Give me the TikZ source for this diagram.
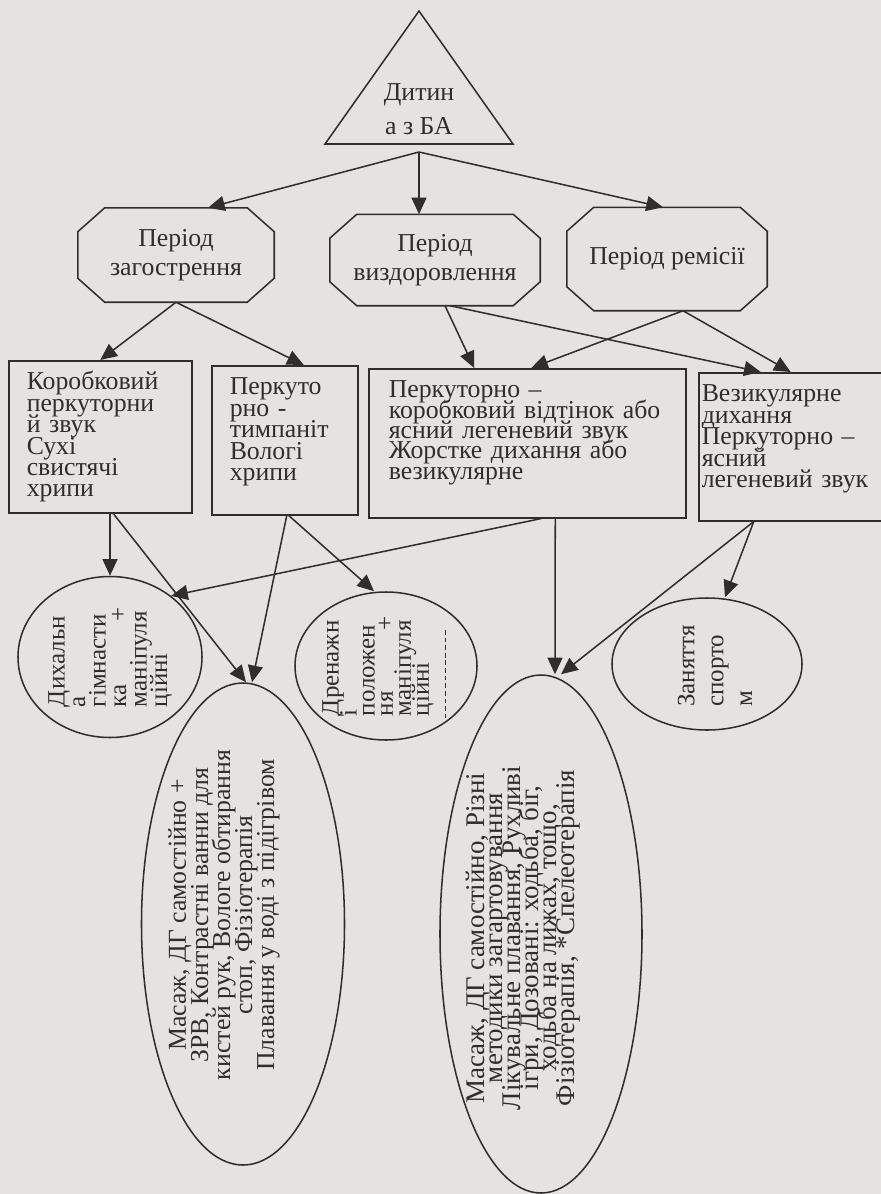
\documentclass[tikz,border=0pt]{standalone}
\usepackage{fontspec}
\setmainfont{Liberation Serif}
\usetikzlibrary{shapes.geometric,arrows.meta,calc}
\newcommand\packlines{\lineskiplimit=-100pt\relax}
\definecolor{paper}{RGB}{229,227,226}
\definecolor{ink}{RGB}{48,45,45}
\tikzset{every node/.style={text=ink,inner sep=0pt},
  edge/.style={draw=ink,line width=1.3pt},
  hex/.style={rectangle,align=center,font=\fontsize{22}{24.7}\selectfont\packlines},
  box/.style={edge,rectangle,anchor=north west,align=left,inner xsep=0.54cm,inner ysep=0pt,text height=0.87cm,font=\fontsize{22}{18.3}\selectfont\packlines},
  oval/.style={edge,ellipse},
  vtext/.style={rotate=90,align=center,font=\fontsize{22}{18.8}\selectfont\packlines},
  link/.style={edge,-{Triangle[length=0.5cm,width=0.45cm]}}}
\begin{document}
\begin{tikzpicture}[x=0.03cm,y=-0.03cm]
      \fill[paper] (0,0) rectangle (881,1194);
      \useasboundingbox (0,0) rectangle (881,1194);

      \draw[edge] (419,11) -- (513,144) -- (325,144) -- cycle;
      \node (T) at (419,109) [align=center,font=\fontsize{22}{29}\selectfont\packlines] {Дитин\\а з БА};
      \coordinate (B) at (419,152);

      \node[hex,minimum width=5.88cm,minimum height=2.82cm] (P1) at (176,255) {Період\\загострення};
      \node[hex,minimum width=6.3cm,minimum height=2.73cm] (P2) at (435,260) {Період\\виздоровлення};
      \node[hex,minimum width=6cm,minimum height=3.09cm] (P3) at (667,259) {Період ремісії};
      \foreach \p in {P1,P2,P3}
        \draw[edge] ($(\p.north west)+(27,0)$) -- ($(\p.north east)+(-27,0)$) -- ($(\p.north east)+(0,24)$)
          -- ($(\p.south east)+(0,-24)$) -- ($(\p.south east)+(-27,0)$) -- ($(\p.south west)+(27,0)$)
          -- ($(\p.south west)+(0,-24)$) -- ($(\p.north west)+(0,24)$) -- cycle;

      \node[box,text width=4.41cm,text depth=3.69cm] (R1) at (8,360) {Коробковий\\перкуторни\\й звук\\Сухі\\свистячі\\хрипи};
      \node[box,text width=3.3cm,text depth=3.6cm] (R2) at (211,365) {Перкуто\\рно -\\тимпаніт\\Вологі\\хрипи};
      \node[box,inner xsep=0.6cm,text width=8.31cm,text depth=3.6cm,font=\fontsize{22}{17.4}\selectfont\packlines] (R3) at (368,368) {Перкуторно –\\коробковий відтінок або\\ясний легеневий звук\\Жорстке дихання або\\везикулярне};
      \node[box,inner xsep=0.09cm,text width=5.82cm,text depth=3.57cm] (R4) at (698,372) {Везикулярне\\дихання\\Перкуторно –\\ясний\\легеневий звук};

      \node[oval,minimum width=5.52cm,minimum height=4.83cm] (O1) at (110,657) {};
      \node[oval,minimum width=6.09cm,minimum height=14.46cm] (O2) at (243,924) {};
      \node[oval,minimum width=5.46cm,minimum height=4.44cm] (O3) at (386,666) {};
      \node[oval,minimum width=6.06cm,minimum height=15.54cm] (O4) at (541,934) {};
      \node[oval,minimum width=5.7cm,minimum height=3.96cm] (O5) at (707,664) {};

      \node[vtext,align=left,text width=3cm,font=\fontsize{21.3}{17.5}\selectfont\packlines] (O1t) at (O1) {Дихальн\\а\\гімнасти\\ка\hfill+\\маніпуля\\ційні};
      \node[vtext] (O2t) at ($(O2)+(-19,-9)$) {Масаж, ДГ самостійно +\\ЗРВ, Контрастні ванни для\\кистей рук, Вологе обтирання\\стоп, Фізіотерапія\\Плавання у воді з підігрівом};
      \node[vtext,align=left,text width=3cm,font=\fontsize{21.3}{15.4}\selectfont\packlines] (O3t) at ($(O3)+(-8,0)$) {Дренажн\\і\\положен\\ня\hfill+\\маніпуля\\ційні};
      \node[vtext,font=\fontsize{23}{15.4}\selectfont\packlines] (O4t) at ($(O4)+(-18,4)$) {Масаж, ДГ самостійно, Різні\\методики загартовування\\Лікувальне плавання, Рухливі\\ігри, Дозовані: ходьба, біг,\\ходьба на лижах, тощо,\\Фізіотерапія, *Спелеотерапія};
      \node[vtext,align=left,font=\fontsize{21.3}{24.7}\selectfont\packlines] (O5t) at ($(O5)+(8,2)$) {Заняття\\спорто\\м};
      \draw[ink,line width=0.8pt,dash pattern=on 4pt off 2.5pt] ($(O3)+(59,-36)$) -- ($(O3)+(59,52)$);

      \draw[link] (B) -- ($(P1.north)+(32,0)$);
      \draw[link] (B) -- (B |- P2.north);
      \draw[link] (B) -- ($(P3.north)+(-4,0)$);
      \draw[link] (P1.south) -- (R1.north);
      \draw[link] (P1.south) -- ($(R2.north)+(19,0)$);
      \draw[link] ($(P2.south)+(10,0)$) -- ($(R3.north)+(-53,0)$);
      \draw[link] ($(P2.south)+(15,0)$) -- ($(R4.north)+(-38,0)$);
      \draw[link] ($(P3.south)+(16,0)$) -- ($(R3.north)+(4,0)$);
      \draw[link] ($(P3.south)+(16,0)$) -- ($(R4.north)+(-8,0)$);
      \draw[link] (R1.south -| O1.north) -- (O1.north);
      \draw[link] ($(R1.south)+(13,0)$) -- ($(O2.north)+(3,0)$);
      \draw[link] ($(R2.south)+(2,0)$) -- ($(O2.north)+(9,0)$);
      \draw[link] ($(R2.south)+(4,0)$) -- ($(O3.north)+(-12,0)$);
      \draw[link] ($(R3.south)+(14,0)$) -- (O1.45);
      \draw[link] ($(R3.south)+(28,0)$) -- ($(O4.north)+(14,0)$);
      \draw[link] ($(R4.south)+(-45,0)$) -- ($(O4.north)+(20,0)$);
      \draw[link] ($(R4.south)+(-45,0)$) -- ($(O5.north)+(18,0)$);
\end{tikzpicture}
\end{document}
